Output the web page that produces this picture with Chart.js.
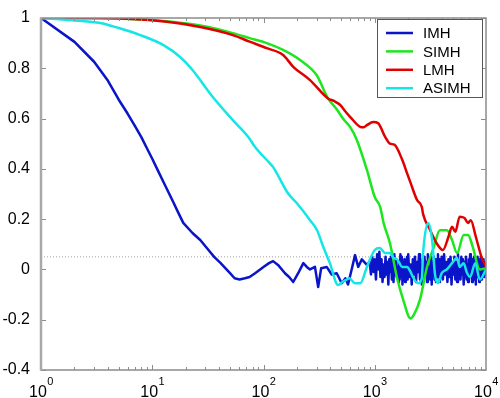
<!doctype html>
<html>
  <head>
    <meta charset="utf-8" />
    <title>ACF comparison</title>
    <script src="https://cdn.jsdelivr.net/npm/chart.js"></script>
    <style>
      html, body { margin: 0; padding: 0; background: #fff; }
      canvas { display: block; }
    </style>
  </head>
  <body>
    <canvas id="chart" width="500" height="398"></canvas>
    <script type="text/javascript">
      // autocorrelation vs lag
      const imhLag = [1, 2, 3, 4, 5, 6, 7, 8, 9, 10, 11, 13, 15.4, 17, 19, 23, 27, 33, 36, 41, 50, 55, 61, 68, 75, 84, 100, 112, 122, 135, 156, 170, 185, 205, 228, 245, 262, 290, 310, 330, 370, 410, 455, 505, 545, 575, 620, 665, 710, 765, 850,
        900, 925, 950, 975, 1000, 1025, 1050, 1075, 1100, 1125,
        1150, 1175, 1200, 1225, 1250, 1275, 1300, 1325, 1350, 1375,
        1400, 1425, 1450, 1475, 1500, 1525, 1550, 1575, 1600, 1625,
        1650, 1675, 1700, 1725, 1750, 1775, 1800, 1825, 1850, 1875,
        1900, 1925, 1950, 1975, 2000, 2050, 2100, 2150, 2200, 2250,
        2300, 2350, 2400, 2450, 2500, 2550, 2600, 2650, 2700, 2750,
        2800, 2850, 2900, 2950, 3000, 3050, 3100, 3150, 3200, 3250,
        3300, 3350, 3400, 3450, 3500, 3550, 3600, 3650, 3700, 3750,
        3800, 3850, 3900, 3950, 4000, 4100, 4200, 4300, 4400, 4500,
        4600, 4700, 4800, 4900, 5000, 5100, 5200, 5300, 5400, 5500,
        5600, 5700, 5800, 5900, 6000, 6100, 6200, 6300, 6400, 6500,
        6600, 6700, 6800, 6900, 7000, 7100, 7200, 7300, 7400, 7500,
        7600, 7700, 7800, 7900, 8000, 8100, 8200, 8300, 8400, 8500,
        8600, 8700, 8800, 8900, 9000, 9100, 9200, 9300, 9400, 9500,
        9600, 9700, 9800, 9900, 10000];
      const imhAcf = [1, 0.905, 0.826, 0.75, 0.675, 0.62, 0.57, 0.525, 0.48, 0.44, 0.402, 0.336, 0.269, 0.229, 0.185, 0.145, 0.117, 0.07, 0.05, 0.026, -0.015, -0.035, -0.04, -0.035, -0.03, -0.015, 0.01, 0.025, 0.033, 0.018, -0.015, -0.03, -0.05, -0.015, 0.025, 0.01, 0, 0.01, -0.07, 0.005, 0.01, -0.02, -0.015, -0.055, -0.035, -0.06, 0, 0.057, 0.01, 0.04, 0.018,
        0.03, -0.02, 0.05, -0.01, 0.04, -0.04, 0.06, 0.0, 0.07, -0.03,
        0.04, -0.05, 0.02, -0.03, 0.05, -0.02, 0.03, -0.06, 0.04, -0.01,
        0.05, -0.04, 0.02, -0.05, 0.06, -0.02, 0.04, -0.03, 0.01, -0.05,
        0.03, -0.04, 0.06, -0.01, 0.05, -0.06, 0.02, -0.03, 0.04, -0.05,
        0.03, -0.02, 0.05, -0.04, 0.06, -0.03, 0.02, -0.06, 0.04, -0.02,
        0.05, -0.05, 0.03, -0.01, 0.06, -0.04, 0.02, -0.06, 0.04, -0.03,
        0.05, -0.02, 0.03, -0.05, 0.06, -0.03, 0.01, -0.04, 0.05, -0.06,
        0.03, -0.02, 0.05, -0.04, 0.04, -0.05, 0.02, -0.03, 0.06, -0.02,
        0.04, -0.05, 0.03, -0.03, 0.05, -0.04, 0.06, -0.02, 0.03, -0.05,
        0.04, -0.03, 0.05, -0.06, 0.02, -0.02, 0.05, -0.04, 0.03, -0.05,
        0.06, -0.03, 0.02, -0.04, 0.05, -0.02, 0.04, -0.06, 0.03, -0.03,
        0.05, -0.04, 0.02, -0.05, 0.04, -0.02, 0.06, -0.03, 0.03, -0.05,
        0.04, -0.02, 0.05, -0.04, 0.02, -0.06, 0.04, -0.03, 0.05, -0.02,
        0.03, -0.05, 0.04, -0.03, 0.05, -0.04, 0.02, -0.03, 0.04, -0.02,
        0.03, -0.03, 0.02, -0.02, 0.0];

      const simhLag = [1, 3.4, 13.5, 27, 53, 75, 107, 150, 213, 300, 380, 450, 530, 600, 690, 850, 1000, 1120, 1200, 1370, 1580, 1800, 2100, 2250, 2550, 2950, 3400, 3850, 4450, 4950, 5500, 6300, 6900, 7600, 8800, 10000];
      const simhAcf = [1, 0.999, 0.987, 0.97, 0.94, 0.92, 0.9, 0.873, 0.833, 0.773, 0.68, 0.64, 0.594, 0.567, 0.515, 0.396, 0.288, 0.248, 0.185, 0.104, -0.03, -0.12, -0.195, -0.18, -0.12, 0.01, 0.09, 0.156, 0.156, 0.117, 0.065, 0.137, 0.137, 0.09, 0.0, 0.005];

      const lmhLag = [1, 3.4, 13.5, 27, 53, 75, 107, 150, 185, 262, 380, 430, 490, 540, 600, 740, 790, 850, 970, 1070, 1240, 1370, 1500, 1770, 1950, 2100, 2400, 2650, 2720, 3150, 3600, 4100, 4600, 4950, 5300, 5800, 6400, 6900, 7300, 8100, 9100, 10000];
      const lmhAcf = [1, 1, 0.985, 0.964, 0.932, 0.906, 0.88, 0.853, 0.806, 0.753, 0.68, 0.67, 0.654, 0.63, 0.607, 0.567, 0.565, 0.574, 0.586, 0.582, 0.527, 0.5, 0.496, 0.435, 0.383, 0.344, 0.276, 0.248, 0.22, 0.156, 0.104, 0.077, 0.13, 0.17, 0.15, 0.21, 0.205, 0.185, 0.196, 0.13, 0.05, 0.01];

      const asimhLag = [1, 2, 3.4, 5, 7.8, 12.5, 17.8, 23, 35, 53, 73, 84, 114, 122, 166, 199, 262, 303, 345, 395, 468, 510, 560, 590, 665, 740, 850, 1000, 1110, 1240, 1370, 1480, 1590, 1770, 1950, 2100, 2200, 2450, 2650, 2720, 3020, 3280, 3480, 3700, 4000, 4450, 4950, 5500, 5800, 6300, 6700, 7200, 8000, 8800, 10000];
      const asimhAcf = [1, 0.99, 0.98, 0.96, 0.932, 0.893, 0.845, 0.793, 0.686, 0.594, 0.527, 0.487, 0.422, 0.407, 0.303, 0.264, 0.196, 0.156, 0.089, 0.025, -0.062, -0.05, -0.04, -0.035, -0.055, -0.055, 0.01, 0.077, 0.085, 0.065, 0.065, 0.045, 0.04, 0.01, 0.01, -0.01, -0.03, -0.055, -0.035, 0.065, 0.185, 0.117, -0.02, -0.055, -0.015, 0.0, 0.025, 0.045, 0.01, 0.025, -0.01, -0.03, 0.025, -0.04, 0.0];

      const refLevel = 0.05;
      const seriesNames = ["IMH", "SIMH", "LMH", "ASIMH"];
      const seriesColors = ["#0a14c8", "#1ee61e", "#e00000", "#14e6e6"];
      const seriesSmooth = [false, true, true, true];
      const xDecades = [0, 1, 2, 3, 4];

      const font = '"Liberation Sans", Arial, Helvetica, sans-serif';

      function pts(lags, vals) {
        return lags.map((x, i) => ({ x: x, y: vals[i] }));
      }

      // MATLAB-style box, inward ticks, x labels and legend
      const frame = {
        id: "frame",
        afterDatasetsDraw(chart) {
          const c = chart.ctx;
          const a = chart.chartArea;
          const xs = chart.scales.x;
          const ys = chart.scales.y;
          c.save();

          // ticks
          c.strokeStyle = "#8c8c8c";
          c.lineWidth = 1;
          c.beginPath();
          for (let d = 0; d < 4; d++) {
            for (let k = 1; k <= 9; k++) {
              const px = Math.round(xs.getPixelForValue(k * Math.pow(10, d))) + 0.5;
              const len = k === 1 ? 5 : 3;
              c.moveTo(px, a.bottom);
              c.lineTo(px, a.bottom - len);
              c.moveTo(px, a.top);
              c.lineTo(px, a.top + len);
            }
          }
          ys.ticks.forEach((t) => {
            const py = Math.round(ys.getPixelForValue(t.value)) + 0.5;
            c.moveTo(a.left, py);
            c.lineTo(a.left + 5, py);
            c.moveTo(a.right, py);
            c.lineTo(a.right - 5, py);
          });
          c.stroke();

          // box
          c.lineWidth = 1.5;
          c.strokeStyle = "#8c8c8c";
          c.beginPath();
          c.moveTo(a.left, a.bottom);
          c.lineTo(a.right, a.bottom);
          c.lineTo(a.right, a.top);
          c.lineTo(a.left, a.top);
          c.stroke();
          c.lineWidth = 2.5;
          c.strokeStyle = "#a8a8a8";
          c.beginPath();
          c.moveTo(a.left, a.top - 0.75);
          c.lineTo(a.left, a.bottom + 0.75);
          c.stroke();

          // x labels 10^d
          c.fillStyle = "#000";
          c.textBaseline = "alphabetic";
          c.textAlign = "left";
          xDecades.forEach((d) => {
            const px = xs.getPixelForValue(Math.pow(10, d));
            c.font = "16px " + font;
            const w1 = c.measureText("10").width;
            c.font = "11px " + font;
            const w2 = c.measureText(String(d)).width;
            const x0 = px - (w1 + w2) / 2;
            c.font = "16px " + font;
            c.fillText("10", x0, 397);
            c.font = "11px " + font;
            c.fillText(String(d), x0 + w1 + 0.5, 385);
          });

          // legend
          const bw = 105, bh = 78;
          const bx = a.right - 4 - bw;
          const by = a.top + 1;
          c.fillStyle = "#fff";
          c.fillRect(bx, by, bw, bh);
          c.strokeStyle = "#555";
          c.lineWidth = 1;
          c.strokeRect(Math.round(bx) + 0.5, Math.round(by) + 0.5, bw, bh);
          c.font = "15px " + font;
          c.textBaseline = "middle";
          seriesNames.forEach((n, i) => {
            const ry = by + 14 + i * 18.4;
            c.strokeStyle = seriesColors[i];
            c.lineWidth = 2.5;
            c.beginPath();
            c.moveTo(bx + 9, ry);
            c.lineTo(bx + 36, ry);
            c.stroke();
            c.fillStyle = "#000";
            c.fillText(n, bx + 46, ry + 1);
          });
          c.restore();
        },
      };

      const lagData = [
        [imhLag, imhAcf],
        [simhLag, simhAcf],
        [lmhLag, lmhAcf],
        [asimhLag, asimhAcf],
      ];

      const datasets = lagData.map((s, i) => ({
        label: seriesNames[i],
        data: pts(s[0], s[1]),
        borderColor: seriesColors[i],
        borderWidth: 2.5,
        cubicInterpolationMode: seriesSmooth[i] ? "monotone" : "default",
        tension: 0,
        order: 4 - i,
      }));
      datasets.push({
        label: "ref",
        data: [{ x: 1, y: refLevel }, { x: 10000, y: refLevel }],
        borderColor: "#a0a0a0",
        borderWidth: 1,
        borderDash: [1, 2],
        order: 5,
      });

      new Chart(document.getElementById("chart"), {
        type: "line",
        data: { datasets: datasets },
        options: {
          responsive: false,
          animation: false,
          layout: { padding: { top: 18, right: 14, left: 0, bottom: 0 } },
          plugins: { legend: { display: false }, tooltip: { enabled: false } },
          elements: { point: { radius: 0 }, line: { borderJoinStyle: "round" } },
          scales: {
            x: {
              type: "logarithmic",
              min: 1,
              max: 10000,
              ticks: { display: false },
              grid: { display: false },
              border: { display: false },
              afterFit: (s) => { s.height = 28; },
            },
            y: {
              min: -0.4,
              max: 1,
              ticks: {
                stepSize: 0.2,
                color: "#000",
                padding: 3,
                font: { family: font, size: 16 },
                callback: (v) => String(Math.round(v * 10) / 10),
              },
              grid: { display: false },
              border: { display: false },
              afterFit: (s) => { s.width = 41; },
            },
          },
        },
        plugins: [frame],
      });
    </script>
  </body>
</html>
